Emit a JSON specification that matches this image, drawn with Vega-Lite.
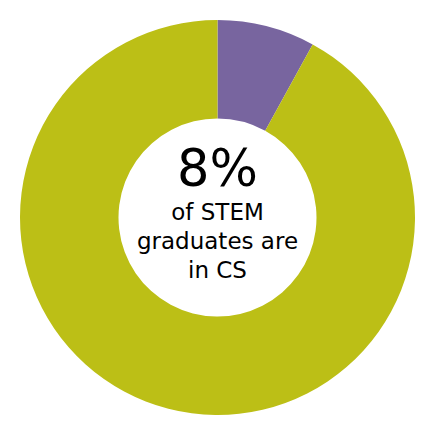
{
  "$schema": "https://vega.github.io/schema/vega-lite/v6.json",
  "width": 435,
  "height": 435,
  "autosize": {"type": "fit", "contains": "padding"},
  "padding": 0,
  "background": "white",
  "config": {"view": {"stroke": null}},
  "layer": [
    {
      "data": {"values": [
        {"category": "CS", "value": 8},
        {"category": "Other STEM", "value": 92}
      ]},
      "mark": {"type": "arc", "outerRadius": 197.5, "innerRadius": 99},
      "encoding": {
        "theta": {"field": "value", "type": "quantitative", "stack": true},
        "order": {"field": "category", "sort": "ascending"},
        "color": {
          "field": "category", "type": "nominal",
          "scale": {"domain": ["CS", "Other STEM"], "range": ["#78659F", "#BCBF16"]},
          "legend": null
        }
      }
    },
    {
      "data": {"values": [{"label": "8%"}]},
      "mark": {"type": "text", "font": "DejaVu Sans", "fontSize": 51, "baseline": "alphabetic", "align": "center", "dy": -32, "color": "black"},
      "encoding": {"text": {"field": "label"}}
    },
    {
      "data": {"values": [{"label": "of STEM"}]},
      "mark": {"type": "text", "font": "DejaVu Sans", "fontSize": 23, "baseline": "alphabetic", "align": "center", "dy": 2.5, "color": "black"},
      "encoding": {"text": {"field": "label"}}
    },
    {
      "data": {"values": [{"label": "graduates are"}]},
      "mark": {"type": "text", "font": "DejaVu Sans", "fontSize": 23, "baseline": "alphabetic", "align": "center", "dy": 31.5, "color": "black"},
      "encoding": {"text": {"field": "label"}}
    },
    {
      "data": {"values": [{"label": "in CS"}]},
      "mark": {"type": "text", "font": "DejaVu Sans", "fontSize": 23, "baseline": "alphabetic", "align": "center", "dy": 60.5, "color": "black"},
      "encoding": {"text": {"field": "label"}}
    }
  ]
}
